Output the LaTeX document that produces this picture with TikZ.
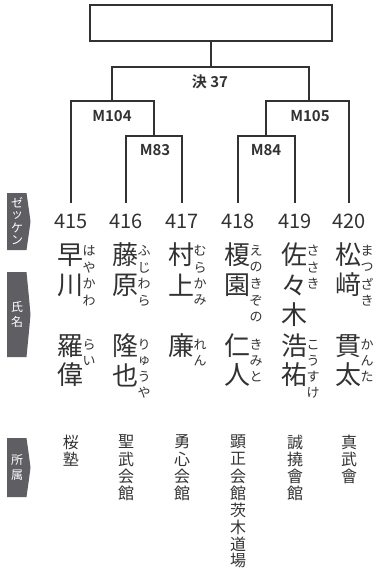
\documentclass[tikz,border=0pt]{standalone}
\usepackage{fontspec}
\setmainfont{Noto Sans CJK JP}[BoldFont={Noto Sans CJK JP Bold}]
\usetikzlibrary{positioning}
\definecolor{ink}{RGB}{50,50,50}
\definecolor{tabgray}{RGB}{95,95,99}
\tikzset{
    bracket/.style={line width=2pt, draw=ink},
    finalbox/.style={draw=ink, line width=2.4pt, minimum width=242pt, minimum height=36pt, inner sep=0pt},
    matchlabel/.style={font=\bfseries\fontsize{15}{15}\selectfont, text=ink, inner sep=0pt},
    numlabel/.style={font=\fontsize{20}{20}\selectfont, text=ink, inner sep=0pt},
    kanji/.style={font=\fontsize{26}{26}\selectfont, text=ink, inner sep=0pt},
    kana/.style={font=\fontsize{13}{13}\selectfont, text=ink, inner sep=0pt},
    club/.style={font=\fontsize{16}{16}\selectfont, text=ink, inner sep=0pt},
    tabtext/.style={font=\fontsize{12}{12}\selectfont, text=white, inner sep=0pt}
}

\begin{document}
\begin{tikzpicture}[x=1pt, y=-1pt]
\useasboundingbox (0,0) rectangle (382,574);

% bracket
\node[finalbox] (final) at (211,23) {};
\coordinate (j37) at (211,67);
\coordinate (c104) at (112,101);
\coordinate (c105) at (309,101);
\coordinate (c83) at (154,136);
\coordinate (c84) at (266,136);
\foreach \x/\n in {71/415,126/416,182/417,238/418,295/419,349/420}
    \coordinate (l\n) at (\x,203);

\draw[bracket] (final) -- (j37);
\draw[bracket] (c104) |- (j37) -| (c105);
\draw[bracket] (l415) |- (c104) -| (c83);
\draw[bracket] (l416) |- (c83) -| (l417);
\draw[bracket] (c84) |- (c105) -| (l420);
\draw[bracket] (l418) |- (c84) -| (l419);

\node[matchlabel] (m37) at (210,82) {決 37};
\node[matchlabel] (m104) at (112,116) {M104};
\node[matchlabel] (m105) at (310,116) {M105};
\node[matchlabel] (m83) at (155,150) {M83};
\node[matchlabel] (m84) at (266,150) {M84};

% players
\foreach \x/\n/\sur/\surk/\giv/\givk/\aff in {
    71/415/{早,川}/{は,や,か,わ}/{羅,偉}/{ら,い}/{桜,塾},
    126/416/{藤,原}/{ふ,じ,わ,ら}/{隆,也}/{り,ゅ,う,や}/{聖,武,会,館},
    182/417/{村,上}/{む,ら,か,み}/{廉}/{れ,ん}/{勇,心,会,館},
    238/418/{榎,園}/{え,の,き,ぞ,の}/{仁,人}/{き,み,と}/{顕,正,会,館,茨,木,道,場},
    295/419/{佐,々,木}/{さ,さ,き}/{浩,祐}/{こ,う,す,け}/{誠,撓,會,館},
    349/420/{松,﨑}/{ま,つ,ざ,き}/{貫,太}/{か,ん,た}/{真,武,會}}
{
    \node[numlabel] (n\n) at (\x,221) {\n};
    \foreach \c [count=\k from 0] in \sur
        \node[kanji] (s\n-\k) at (\x-1,255+30*\k) {\c};
    \foreach \c [count=\k from 0] in \surk
        \node[kana] (sk\n-\k) at (\x+18,251+16.5*\k) {\c};
    \foreach \c [count=\k from 0] in \giv
        \node[kanji] (g\n-\k) at (\x-1,346+29*\k) {\c};
    \foreach \c [count=\k from 0] in \givk
        \node[kana] (gk\n-\k) at (\x+18,345+16*\k) {\c};
    \foreach \c [count=\k from 0] in \aff
        \node[club] (a\n-\k) at (\x,442+17*\k) {\c};
}

% side tabs
\foreach \t/\b/\first/\pitch/\txt/\tn in {
    193/250/203/12.5/{ゼ,ッ,ケ,ン}/zekken,
    272/357/307/15/{氏,名}/shimei,
    438/497/460/15/{所,属}/shozoku}
{
    \fill[tabgray] (7,\t) -- (26.5,\t)
        .. controls (29,\t+0.3*\b-0.3*\t) .. (30.5,{(\t+\b)/2})
        .. controls (29,\t+0.7*\b-0.7*\t) .. (26.5,\b) -- (7,\b) -- cycle;
    \foreach \c [count=\k from 0] in \txt
        \node[tabtext] (\tn-\k) at (17,\first+\pitch*\k) {\c};
}
\end{tikzpicture}
\end{document}
